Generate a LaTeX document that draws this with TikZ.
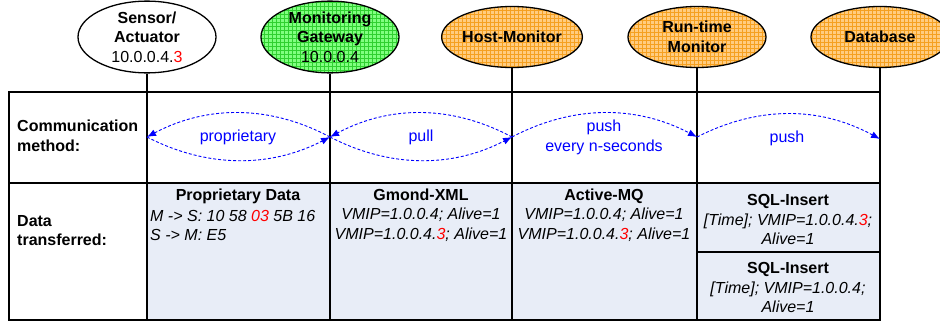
\documentclass[tikz,border=0pt]{standalone}
\usepackage{fontspec}
\setmainfont{Liberation Sans}
\usetikzlibrary{shapes.geometric,arrows.meta}
\definecolor{orfill}{HTML}{FFCC80}
\definecolor{orgrid}{HTML}{F5A020}
\definecolor{grfill}{HTML}{80FF80}
\definecolor{grgrid}{HTML}{30D030}
\definecolor{cellblue}{HTML}{E8EDF7}
\definecolor{arrblue}{HTML}{0000FF}
\definecolor{redd}{HTML}{FF0000}
\tikzset{
  ell/.style={ellipse, draw=black, line width=1.3pt, minimum width=138pt, minimum height=61pt, inner sep=0pt,
    align=center, font=\fontsize{16}{19.5}\selectfont\bfseries},
  orangeell/.style={ell, fill=orfill, path picture={\draw[orgrid, line width=0.5pt] (path picture bounding box.south west) grid[step=4pt] (path picture bounding box.north east);}},
  greenell/.style={ell, fill=grfill, path picture={\draw[grgrid, line width=0.5pt] (path picture bounding box.south west) grid[step=4pt] (path picture bounding box.north east);}},
  tline/.style={line width=1.3pt, black},
  comm/.style={arrblue, dash pattern=on 3pt off 2pt, line width=0.9pt, -{Latex[length=9pt,width=7pt]}},
  commlbl/.style={text=arrblue, align=center, font=\fontsize{16}{19.5}\selectfont, inner sep=0pt},
  rowlbl/.style={align=left, anchor=west, font=\fontsize{16}{19.5}\selectfont\bfseries, inner sep=0pt},
  celltxt/.style={align=center, font=\fontsize{16}{19.5}\selectfont, inner sep=0pt},
}
\newcommand{\rd}[1]{\textcolor{redd}{#1}}
\begin{document}
\begin{tikzpicture}[x=1pt, y=-1pt]
\useasboundingbox (0,0) rectangle (940,324);
% cell fill
\fill[cellblue] (147,183) rectangle (880,320);
% ellipses
\node[ell, fill=white] (sens) at (147,37) {Sensor/\\Actuator\\\mdseries 10.0.0.4.\rd{3}};
\node[greenell] (gw) at (330,37) {Monitoring\\Gateway\\\mdseries 10.0.0.4};
\node[orangeell] (host) at (512,37) {Host-Monitor};
\node[orangeell] (rt) at (697,37) {Run-time\\Monitor};
\node[orangeell] (db) at (880,37) {Database};
% table coordinates
\coordinate (tl) at (9,92);
\coordinate (tr) at (880,92);
\coordinate (bl) at (9,320);
\coordinate (br) at (880,320);
% table lines
\draw[tline] (tl) -- (tr) -- (br) -- (bl) -- cycle;
\draw[tline] (9,183) -- (880,183);
\draw[tline] (697,252) -- (880,252);
\foreach \x in {147,330,512,697} \draw[tline] (\x,92) -- (\x,320);
% ellipse connectors
\foreach \n in {sens,gw,host,rt,db} \draw[tline] (\n.south) -- (\n.south |- tl);
% row labels
\node[rowlbl] (lcomm) at (17,136) {Communication\\method:};
\node[rowlbl] (ldata) at (17,230.5) {Data\\transferred:};
% communication coordinates
\coordinate (p1) at (147,137);
\coordinate (p2) at (330,137);
\coordinate (p3) at (512,137);
\coordinate (p4) at (697,137);
\coordinate (p5) at (880,139);
\draw[comm] (p2) .. controls (270,105) and (207,105) .. (p1);
\draw[comm] (p1) .. controls (207,168) and (270,168) .. (p2);
\draw[comm] (p3) .. controls (452,105) and (390,105) .. (p2);
\draw[comm] (p2) .. controls (390,168) and (452,168) .. (p3);
\draw[comm] (p3) .. controls (573,105) and (636,105) .. (p4);
\draw[comm] (p4) .. controls (758,106) and (819,106) .. (p5);
\node[commlbl] (c1) at (238,137) {proprietary};
\node[commlbl] (c2) at (421,137) {pull};
\node[commlbl] (c3) at (604,137.5) {push\\every n-seconds};
\node[commlbl] (c4) at (787,138) {push};
% data cells
\node[celltxt, font=\fontsize{16}{19.5}\selectfont\bfseries] (d1t) at (238,196) {Proprietary Data};
\node[celltxt, align=left, anchor=west, font=\fontsize{16}{19.5}\selectfont\itshape] (d1b) at (150,225.5) {M -> S: 10 58 \rd{03} 5B 16\\S -> M: E5};
\node[celltxt] (d2) at (421,215) {\bfseries Gmond-XML\\\itshape VMIP=1.0.0.4; Alive=1\\\itshape VMIP=1.0.0.4.\rd{3}; Alive=1};
\node[celltxt] (d3) at (604,215) {\bfseries Active-MQ\\\itshape VMIP=1.0.0.4; Alive=1\\\itshape VMIP=1.0.0.4.\rd{3}; Alive=1};
\node[celltxt] (d4) at (788,219.5) {\bfseries SQL-Insert\\\itshape [Time]; VMIP=1.0.0.4.\rd{3};\\\itshape Alive=1};
\node[celltxt] (d5) at (788,287.5) {\bfseries SQL-Insert\\\itshape [Time]; VMIP=1.0.0.4;\\\itshape Alive=1};
\end{tikzpicture}
\end{document}
